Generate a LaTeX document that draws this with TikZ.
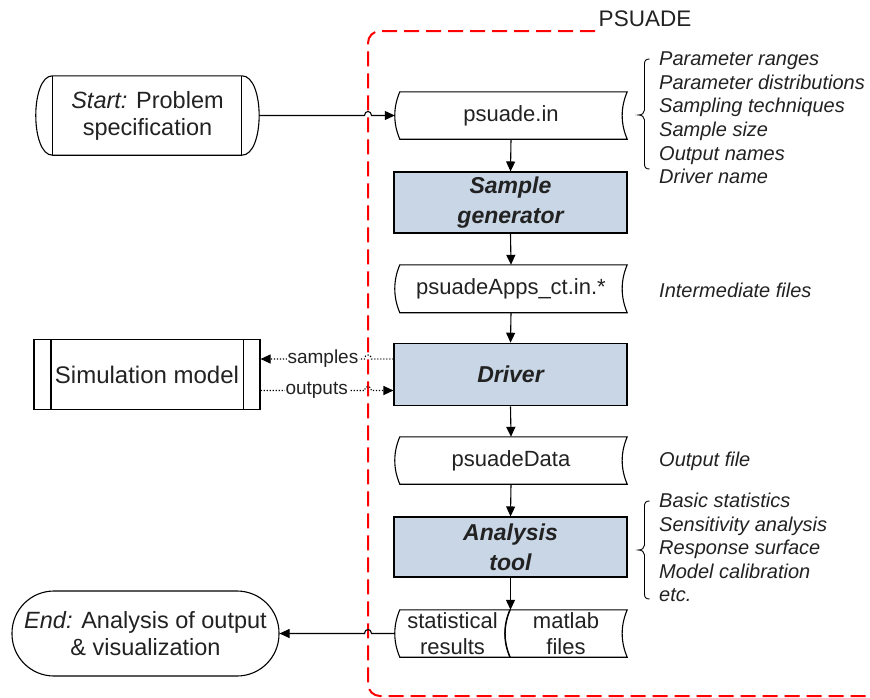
\documentclass[tikz,border=0pt]{standalone}
\usepackage{fontspec}
\setmainfont{Liberation Sans}
\usetikzlibrary{calc,arrows.meta}
\definecolor{procfill}{RGB}{201,214,230}
\definecolor{txt}{RGB}{34,34,34}
\tikzset{
  outl/.style={line width=1.1pt},
  boxnode/.style={draw=none, inner sep=0pt, text=txt, align=center, font=\fontsize{22}{27}\selectfont},
  procbox/.style={draw, line width=1.1pt, fill=procfill, inner sep=0pt, text=txt, align=center, font=\fontsize{23}{30}\selectfont\bfseries\itshape},
  conn/.style={line width=1.1pt, -{Triangle[length=10pt,width=9pt]}},
  dotconn/.style={line width=1.1pt, dash pattern=on 1.2pt off 1.8pt, -{Triangle[length=10pt,width=9pt]}},
  lbl/.style={fill=white, inner sep=1pt, text=txt, font=\fontsize{19}{22}\selectfont},
  annot/.style={inner sep=0pt, anchor=west, align=left, text=txt, font=\fontsize{20}{23.6}\selectfont\itshape},
  redbox/.style={draw=red, line width=2pt, dash pattern=on 15pt off 7pt, rounded corners=12pt},
}
\newcommand\sdshape[1]{%
  \draw[outl] ($(#1.north west)+(5,0)$) -- (#1.north east)
    .. controls ($(#1.north east)+(-6.7,15.7)$) and ($(#1.south east)+(-6.7,-15.7)$) .. (#1.south east)
    -- ($(#1.south west)+(5,0)$)
    .. controls ($(#1.south west)+(-1.7,-15.7)$) and ($(#1.north west)+(-1.7,15.7)$) .. ($(#1.north west)+(5,0)$) -- cycle;}
\begin{document}
\begin{tikzpicture}[x=1pt,y=-1pt]
\useasboundingbox (0,0) rectangle (870,697);
\fill[white] (0,0) rectangle (870,697);

% PSUADE boundary
\draw[redbox] (595,31) -- (368,31) -- (368,696) -- (872,696);
\node[text=txt, inner sep=0pt, font=\fontsize{22.5}{26}\selectfont] (title) at (645,19) {PSUADE};

% Start
\node[boxnode, minimum width=223, minimum height=79, font=\fontsize{23.5}{27}\selectfont] (start) at (147.5,115.5) {\textit{Start:} Problem\\specification};
\draw[outl] ($(start.north west)+(16.7,0)$) -- ($(start.north east)+(-17.3,0)$)
  .. controls ($(start.north east)+(5.7,0)$) and ($(start.south east)+(5.7,0)$) .. ($(start.south east)+(-17.3,0)$)
  -- ($(start.south west)+(16.7,0)$)
  .. controls ($(start.south west)+(-5.6,0)$) and ($(start.north west)+(-5.6,0)$) .. ($(start.north west)+(16.7,0)$) -- cycle;
\draw[outl] ($(start.north west)+(16.7,0)$) -- ($(start.south west)+(16.7,0)$);
\draw[outl] ($(start.north east)+(-17.3,0)$) -- ($(start.south east)+(-17.3,0)$);

% stored data nodes
\node[boxnode, minimum width=232, minimum height=47] (psin) at (511,115.5) {psuade.in};
\sdshape{psin}
\node[procbox, minimum width=233, minimum height=61] (sg) at (510.5,202.5) {Sample\\generator};
\node[boxnode, minimum width=232, minimum height=47.5] (apps) at (511,288.75) {psuadeApps\_ct.in.*};
\sdshape{apps}
\node[procbox, minimum width=233, minimum height=62.5] (drv) at (510.5,374.5) {Driver};
\node[boxnode, minimum width=232, minimum height=47] (pdata) at (511,460.5) {psuadeData};
\sdshape{pdata}
\node[procbox, minimum width=233, minimum height=60] (at) at (510.5,547) {Analysis\\tool};
\node[boxnode, minimum width=115, minimum height=47, font=\fontsize{22}{26}\selectfont] (stat) at (452.5,633.5) {statistical\\results};
\sdshape{stat}
\node[boxnode, minimum width=122, minimum height=47, font=\fontsize{22}{26}\selectfont] (mat) at (566,633.5) {matlab\\files};
\sdshape{mat}

% Simulation model
\node[boxnode, draw, line width=1.1pt, minimum width=226, minimum height=70, font=\fontsize{24}{28}\selectfont] (sim) at (147,374.5) {Simulation model};
\draw[outl] ($(sim.north west)+(17.5,0)$) -- ($(sim.south west)+(17.5,0)$);
\draw[outl] ($(sim.north east)+(-17.5,0)$) -- ($(sim.south east)+(-17.5,0)$);

% End
\node[boxnode, draw, line width=1.1pt, rounded corners=42pt, minimum width=267, minimum height=85, font=\fontsize{23.5}{27}\selectfont] (end) at (145.5,633.5) {\textit{End:} Analysis of output\\\& visualization};

% vertical connectors
\draw[conn] (psin.south) -- (sg.north);
\draw[conn] (sg.south) -- (apps.north);
\draw[conn] (apps.south) -- (drv.north);
\draw[conn] (drv.south) -- (pdata.north);
\draw[conn] (pdata.south) -- (at.north);
\draw[conn] (at.south) -- (at.south |- stat.north);

% horizontal connectors with hops over the red line
\draw[conn] (start.east) -- (364.5,115.5) .. controls (364.5,110.2) and (371.5,110.2) .. (371.5,115.5) -- (psin.west);
\draw[conn] (stat.west) -- (371.5,633.5) .. controls (371.5,628.2) and (364.5,628.2) .. (364.5,633.5) -- (end.east);
\draw[dotconn] ($(drv.west)+(0,-15.5)$) -- (371.5,359) .. controls (371.5,353.7) and (364.5,353.7) .. (364.5,359)
  -- node[lbl, pos=0.4] {samples} ($(sim.east)+(0,-15.5)$);
\draw[dotconn] ($(sim.east)+(0,16)$) -- node[lbl, pos=0.54] {outputs} (364.5,390.5)
  .. controls (364.5,385.2) and (371.5,385.2) .. (371.5,390.5) -- ($(drv.west)+(0,16)$);

% annotations
\node[annot] (a1) at (659,118) {Parameter ranges\\Parameter distributions\\Sampling techniques\\Sample size\\Output names\\Driver name};
\draw[outl, line width=0.9pt] (649.5,59) .. controls (646,59) and (644.5,60.5) .. (644.5,64) -- (644.5,110) .. controls (644.5,113) and (642,115) .. (638.5,115)
  .. controls (642,115) and (644.5,117) .. (644.5,120) -- (644.5,164) .. controls (644.5,167.5) and (646,169) .. (649.5,169);
\node[annot] (a2) at (659,290) {Intermediate files};
\node[annot] (a3) at (659,461) {Output file};
\node[annot] (a4) at (659,547.5) {Basic statistics\\Sensitivity analysis\\Response surface\\Model calibration\\etc.};
\draw[outl, line width=0.9pt] (649.5,501) .. controls (646,501) and (644.5,502.5) .. (644.5,506) -- (644.5,545) .. controls (644.5,548) and (642,550) .. (638.5,550)
  .. controls (642,550) and (644.5,552) .. (644.5,555) -- (644.5,594) .. controls (644.5,597.5) and (646,599) .. (649.5,599);
\end{tikzpicture}
\end{document}
